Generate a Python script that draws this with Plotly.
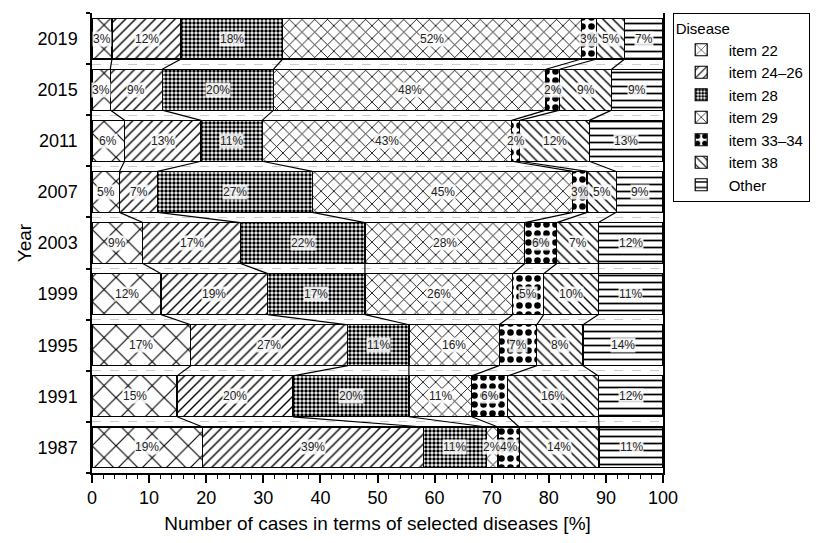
import plotly.graph_objects as go

years = ["1987", "1991", "1995", "1999", "2003", "2007", "2011", "2015", "2019"]

item22 = [19.4, 14.9, 17.3, 12.1, 8.9, 4.8, 5.7, 3.2, 3.5]
item24_26 = [38.6, 20.3, 27.5, 18.7, 17.1, 6.7, 13.4, 9.1, 12.1]
item28 = [11.1, 20.3, 10.7, 17.0, 21.8, 27.1, 10.7, 19.5, 17.8]
item29 = [2.0, 11.0, 15.8, 25.9, 28.0, 45.6, 43.7, 47.7, 52.3]
item33_34 = [3.7, 6.3, 6.6, 5.4, 5.6, 2.5, 1.4, 2.4, 2.7]
item38 = [14.0, 15.9, 8.1, 9.6, 7.3, 5.1, 12.2, 9.1, 4.9]
other = [11.2, 11.3, 14.0, 11.3, 11.3, 8.2, 12.9, 9.0, 6.7]

lab22 = [19, 15, 17, 12, 9, 5, 6, 3, 3]
lab24_26 = [39, 20, 27, 19, 17, 7, 13, 9, 12]
lab28 = [11, 20, 11, 17, 22, 27, 11, 20, 18]
lab29 = [2, 11, 16, 26, 28, 45, 43, 48, 52]
lab33_34 = [4, 6, 7, 5, 6, 3, 2, 2, 3]
lab38 = [14, 16, 8, 10, 7, 5, 12, 9, 5]
labOther = [11, 12, 14, 11, 12, 9, 13, 9, 7]

names = ["item 22", "item 24\u201326", "item 28", "item 29", "item 33\u201334", "item 38", "Other"]
series = [item22, item24_26, item28, item29, item33_34, item38, other]
labels = [lab22, lab24_26, lab28, lab29, lab33_34, lab38, labOther]

patterns = [
    dict(shape="x", size=17, solidity=0.13),
    dict(shape="/", size=7, solidity=0.2),
    dict(shape=".", size=4, solidity=0.6),
    dict(shape="x", size=9, solidity=0.18),
    dict(shape=".", size=9, solidity=0.42),
    dict(shape="\\", size=7, solidity=0.2),
    dict(shape="-", size=7, solidity=0.25),
]

ypos = list(range(len(years)))
BW = 0.8

fig = go.Figure()
for name, vals, pat in zip(names, series, patterns):
    fig.add_trace(go.Bar(
        y=ypos, x=vals, orientation="h", name=name, width=BW,
        marker=dict(color="white", line=dict(color="black", width=1.2),
                    pattern=dict(fgcolor="black", bgcolor="white", fgopacity=1,
                                 fillmode="overlay", **pat)),
        hoverinfo="skip",
    ))

# cumulative boundaries
n = len(years)
cum = []
run = [0.0] * n
starts = []
for vals in series:
    starts.append(run[:])
    run = [r + v for r, v in zip(run, vals)]
    cum.append(run[:])

# connecting lines between consecutive years
lx, ly = [], []
for k in range(len(series) - 1):
    for i in range(n - 1):
        lx += [cum[k][i + 1], cum[k][i], None]
        ly += [ypos[i + 1] - BW / 2, ypos[i] + BW / 2, None]
fig.add_trace(go.Scatter(x=lx, y=ly, mode="lines", line=dict(color="black", width=1.2),
                         showlegend=False, hoverinfo="skip"))

# labels
for s, vals, labs in zip(starts, series, labels):
    for i in range(n):
        fig.add_annotation(x=s[i] + vals[i] / 2, y=ypos[i], text=f"{labs[i]}%",
                           showarrow=False, font=dict(size=12, color="#222"),
                           bgcolor="rgba(255,255,255,0.85)", borderpad=0)

fig.update_layout(
    barmode="stack",
    width=814, height=535,
    margin=dict(l=84, r=159, t=5, b=70, autoexpand=False),
    paper_bgcolor="white", plot_bgcolor="white",
    font=dict(family="Liberation Sans, Arial, sans-serif", color="black"),
    legend=dict(
        title=dict(text="Disease", font=dict(size=15)),
        font=dict(size=15), x=1.017, y=1.0, xanchor="left", yanchor="top",
        bordercolor="black", borderwidth=1, itemwidth=45, tracegroupgap=0,
        traceorder="normal",
    ),
    showlegend=True,
)
fig.update_xaxes(
    range=[0, 100], dtick=10, ticks="outside", ticklen=8, tickwidth=1.5, tickcolor="black",
    showline=True, linecolor="black", linewidth=1.5, showgrid=False, zeroline=False,
    tickfont=dict(size=18), automargin=False,
    minor=dict(dtick=2, ticks="outside", ticklen=4, tickcolor="black", tickwidth=1),
    title=dict(text="Number of cases in terms of selected diseases [%]", font=dict(size=19), standoff=9),
)
fig.update_yaxes(
    range=[-0.5, n - 0.5], tickvals=ypos, ticktext=years, ticks="",
    showline=True, linecolor="black", linewidth=1.5, mirror=True, showgrid=False, zeroline=False,
    tickfont=dict(size=18), ticklabelstandoff=9, automargin=False,
    minor=dict(tick0=-0.5, dtick=1, ticks="outside", ticklen=4, tickcolor="black", tickwidth=1.5,
               showgrid=True, gridcolor="#cccccc", griddash="dash", gridwidth=1),
    title=dict(text="Year", font=dict(size=19), standoff=1),
)

fig.write_html("out.html")
